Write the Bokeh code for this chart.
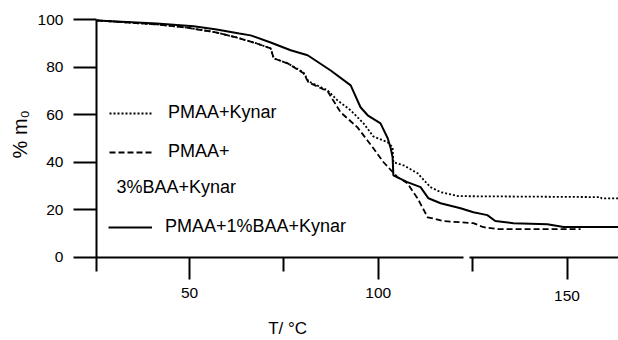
import math
from bokeh.plotting import figure
from bokeh.models import (LinearAxis, FixedTicker, Legend, LegendItem, Label,
                          Range1d)
from bokeh.embed import file_html
from bokeh.resources import INLINE

# ---- data ----
t_kynar = [25.5, 41.3, 49.2, 57.2, 62.5, 67.8, 71.5, 72.3, 76.0, 80.2, 81.5,
           86.6, 89.2, 92.7, 96.1, 98.7, 102.5, 103.8, 104.0, 106.7, 110.4,
           113.8, 116.5, 121.3, 158.9, 159.1, 163.6]
m_kynar = [99.8, 98.1, 96.8, 94.7, 92.6, 90.1, 88.0, 83.8, 81.7, 77.9, 74.1,
           70.3, 66.1, 61.9, 56.4, 50.9, 48.4, 46.3, 40.0, 38.7, 35.4,
           29.5, 27.4, 25.7, 25.3, 24.8, 24.8]

t_3baa = [25.5, 41.3, 49.2, 57.2, 62.5, 67.8, 71.5, 72.3, 76.0, 80.2, 81.5,
          86.6, 90.0, 94.5, 98.7, 101.4, 105.1, 107.7, 110.4, 113.1, 117.3,
          125.2, 127.9, 131.9, 153.6]
m_3baa = [99.8, 98.1, 96.8, 94.7, 92.6, 90.1, 88.0, 83.8, 81.7, 77.5, 73.7,
          69.9, 61.1, 54.7, 45.9, 40.0, 33.7, 31.2, 24.8, 16.8, 15.2,
          14.3, 12.6, 11.8, 11.8]

t_1baa = [25.5, 41.3, 51.1, 57.2, 63.2, 66.2, 71.5, 76.8, 81.3, 87.4, 92.7,
          95.3, 97.2, 100.6, 102.5, 103.3, 103.8, 104.0, 107.7, 111.2, 113.3,
          116.5, 121.8, 125.2, 128.9, 131.0, 135.8, 144.8, 149.1, 163.6]
m_1baa = [99.8, 98.5, 97.3, 96.0, 94.3, 93.5, 90.5, 87.2, 85.1, 78.7, 72.4,
          63.2, 59.8, 56.4, 50.1, 45.9, 42.1, 34.5, 31.6, 29.5, 24.8,
          22.7, 20.6, 18.9, 17.7, 15.2, 14.3, 13.9, 12.7, 12.7]

y_ticks = [0, 20, 40, 60, 80, 100]
x_ticks_left = [50, 100]
x_minor_left = [75]
x_ticks_right = [150]
x_minor_right = [125]

FONT = "Liberation Sans"
X0 = 25.36  # where the y axis sits

p = figure(width=618, height=340, output_backend="svg", toolbar_location=None,
           x_range=Range1d(-0.066, 163.64), y_range=Range1d(-35.16, 108.2),
           x_axis_location=None, y_axis_location=None, min_border=0)
p.grid.visible = False
p.outline_line_color = None
p.background_fill_color = "white"
p.border_fill_color = "white"

r_dot = p.line(t_kynar, m_kynar, line_color="black", line_width=1.8,
               line_dash="2 2")
r_dash = p.line(t_3baa, m_3baa, line_color="black", line_width=1.8,
                line_dash="6 3")
r_solid = p.line(t_1baa, m_1baa, line_color="black", line_width=2)

# y axis
yax = LinearAxis(ticker=FixedTicker(ticks=y_ticks), bounds=(-5.9, 100),
                 fixed_location=X0)
yax.axis_line_width = 2
yax.major_tick_line_width = 2
yax.major_tick_out = 23
yax.major_tick_in = 0
yax.minor_tick_out = 0
yax.minor_tick_in = 0
yax.major_label_standoff = 10
yax.major_label_text_font = FONT
yax.major_label_text_font_size = "15.5px"
yax.major_label_text_color = "black"
p.add_layout(yax, "left")


def make_xaxis(ticks, minor, bounds, standoff):
    ax = LinearAxis(ticker=FixedTicker(ticks=ticks, minor_ticks=minor),
                    bounds=bounds, fixed_location=0)
    ax.axis_line_width = 2
    ax.major_tick_line_width = 2
    ax.minor_tick_line_width = 2
    ax.major_tick_out = 22
    ax.major_tick_in = 0
    ax.minor_tick_out = 14
    ax.minor_tick_in = 0
    ax.major_label_standoff = standoff
    ax.major_label_text_font = FONT
    ax.major_label_text_font_size = "15.5px"
    ax.major_label_text_color = "black"
    return ax


p.add_layout(make_xaxis(x_ticks_left, x_minor_left, (X0, 122.6), 9), "below")
p.add_layout(make_xaxis(x_ticks_right, x_minor_right, (124.3, 163.6), 12), "below")

# axis titles
p.add_layout(Label(x=5.0, y=51.8, text="% m₀", angle=math.pi / 2,
                   text_align="center", text_baseline="middle",
                   text_font=FONT, text_font_size="20px", text_color="black"))
p.add_layout(Label(x=76.0, y=-30.3, text="T/ °C", text_align="center",
                   text_baseline="middle", text_font=FONT,
                   text_font_size="17px", text_color="black"))


def legend(items, loc, standoff):
    lg = Legend(items=items, location=loc, orientation="vertical",
                glyph_width=44, glyph_height=20, label_height=20,
                label_standoff=standoff, spacing=18, padding=0, margin=0,
                border_line_alpha=0, background_fill_alpha=0,
                label_text_font=FONT, label_text_font_size="18px",
                label_text_color="black")
    return lg


p.add_layout(legend([LegendItem(label="PMAA+Kynar", renderers=[r_dot]),
                     LegendItem(label="PMAA+", renderers=[r_dash])],
                    (109, 178), 15))
p.add_layout(legend([LegendItem(label="PMAA+1%BAA+Kynar", renderers=[r_solid])],
                    (108, 103), 13))
p.add_layout(Label(x=30.66, y=29.5, text="3%BAA+Kynar", text_align="left",
                   text_baseline="middle", text_font=FONT,
                   text_font_size="18px", text_color="black"))

open("out.html", "w").write(file_html(p, INLINE))
